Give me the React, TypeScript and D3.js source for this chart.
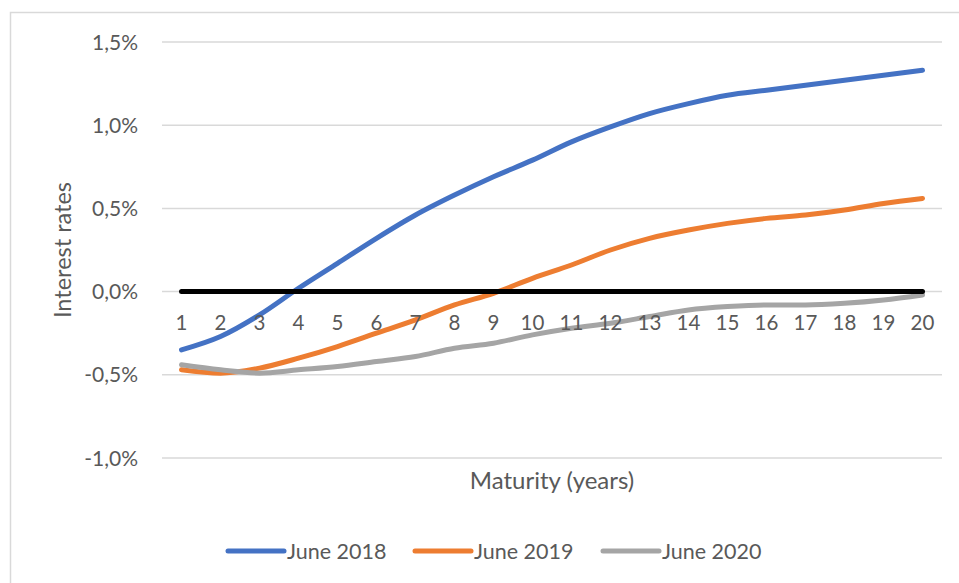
import React from "react";
import * as d3 from "d3";

const maturities = ["1","2","3","4","5","6","7","8","9","10","11","12","13","14","15","16","17","18","19","20"];
const june2018 = [-0.35,-0.27,-0.14,0.02,0.17,0.32,0.46,0.58,0.69,0.79,0.90,0.99,1.07,1.13,1.18,1.21,1.24,1.27,1.30,1.33];
const june2019 = [-0.47,-0.49,-0.46,-0.40,-0.33,-0.25,-0.17,-0.08,-0.01,0.08,0.16,0.25,0.32,0.37,0.41,0.44,0.46,0.49,0.53,0.56];
const june2020 = [-0.44,-0.47,-0.49,-0.47,-0.45,-0.42,-0.39,-0.34,-0.31,-0.26,-0.22,-0.19,-0.15,-0.11,-0.09,-0.08,-0.08,-0.07,-0.05,-0.02];
const zeroLine = maturities.map(() => 0);
const yTicks = [1.5, 1.0, 0.5, 0.0, -0.5, -1.0];
const seriesNames = ["June 2018", "June 2019", "June 2020"];
const seriesColors = ["#4472C4", "#ED7D31", "#A5A5A5"];

const W = 959, H = 583;
const FONT = "Lato, 'Open Sans', sans-serif";
const TEXT = "#595959";

export default function App() {
  const x = d3.scaleBand<string>().domain(maturities).range([162, 942]);
  const y = d3.scaleLinear().domain([-1.0, 1.5]).range([458, 42]);
  const line = d3.line<number>()
    .x((_, i) => (x(maturities[i]) as number) + x.bandwidth() / 2)
    .y((d) => y(d))
    .curve(d3.curveMonotoneX);
  const series = [june2018, june2019, june2020];
  const fmt = (v: number) => v.toFixed(1).replace(".", ",") + "%";
  const legendX = [228, 415, 603];

  return (
    <svg width={W} height={H} style={{ position: "absolute", left: 0, top: 0, background: "#fff" }} fontFamily={FONT}>
      <rect x={10.5} y={12.5} width={960} height={600} fill="#fff" stroke="#d9d9d9" strokeWidth={1.5} />
      {yTicks.map((t) => (
        <g key={t}>
          <line x1={162} x2={942} y1={y(t)} y2={y(t)} stroke="#d9d9d9" strokeWidth={1.5} />
          <text x={138} y={y(t)} dy="0.36em" textAnchor="end" fontSize={21} fill={TEXT}>{fmt(t)}</text>
        </g>
      ))}
      {series.map((s, i) => (
        <path key={i} d={line(s) as string} fill="none" stroke={seriesColors[i]} strokeWidth={5} strokeLinecap="round" strokeLinejoin="round" />
      ))}
      <path d={line(zeroLine) as string} fill="none" stroke="#000" strokeWidth={5} strokeLinecap="round" />
      {maturities.map((m) => (
        <text key={m} x={(x(m) as number) + x.bandwidth() / 2} y={323} dy="0.36em" textAnchor="middle" fontSize={20.5} fill={TEXT}>{m}</text>
      ))}
      <text transform={`translate(63,250) rotate(-90)`} textAnchor="middle" dy="0.36em" fontSize={23.5} fill={TEXT}>Interest rates</text>
      <text x={552} y={480} dy="0.36em" textAnchor="middle" fontSize={24} fill={TEXT}>Maturity (years)</text>
      {seriesNames.map((n, i) => (
        <g key={n}>
          <line x1={legendX[i]} x2={legendX[i] + 56} y1={551} y2={551} stroke={seriesColors[i]} strokeWidth={5} strokeLinecap="round" />
          <text x={legendX[i] + 59} y={551} dy="0.36em" fontSize={21.5} fill={TEXT}>{n}</text>
        </g>
      ))}
    </svg>
  );
}
